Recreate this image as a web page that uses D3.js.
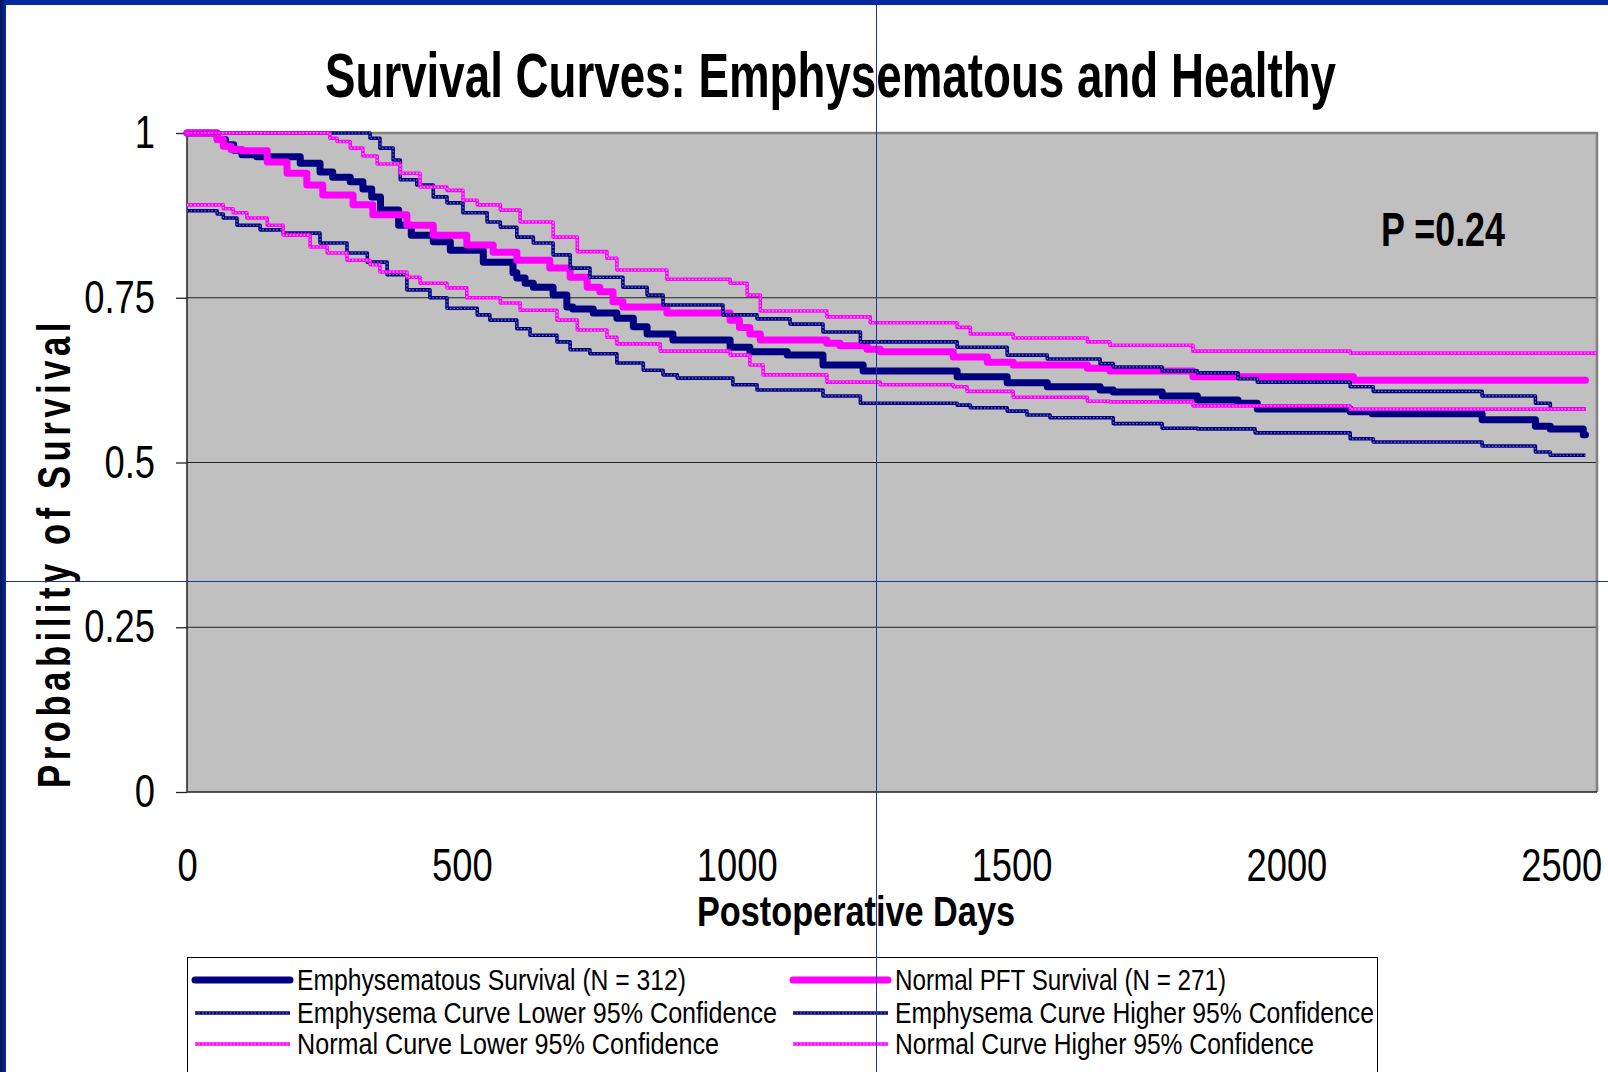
<!DOCTYPE html>
<html>
<head>
<meta charset="utf-8">
<script src="https://cdn.jsdelivr.net/npm/d3@7/dist/d3.min.js"></script>
<style>
  body { margin: 0; background: #fff; }
  svg { display: block; }
  .narrow { font-family: "Liberation Sans Narrow", "Arial Narrow", "Liberation Sans", Arial, sans-serif; }
</style>
</head>
<body>
<div id="chart"></div>
<script>
// Kaplan-Meier step points: [postoperative day, survival]
var emphSurvival = [
  [0,1.0],[55,0.990],[70,0.982],[85,0.974],[100,0.967],[127,0.964],[206,0.954],[242,0.941],
  [265,0.933],[297,0.926],[320,0.915],[336,0.903],[352,0.883],[385,0.860],[408,0.845],
  [448,0.835],[479,0.822],[539,0.804],[593,0.788],[600,0.780],[615,0.772],[630,0.766],
  [666,0.754],[691,0.736],[702,0.733],[739,0.727],[782,0.719],[812,0.706],[837,0.695],
  [884,0.686],[988,0.675],[1024,0.668],[1092,0.663],[1157,0.648],[1230,0.639],[1401,0.630],
  [1492,0.621],[1565,0.615],[1661,0.610],[1685,0.607],[1774,0.601],[1838,0.595],[1912,0.590],
  [1947,0.581],[2116,0.577],[2156,0.574],[2356,0.565],[2453,0.555],[2480,0.551],[2540,0.542]
];
var normalSurvival = [
  [0,1.0],[55,0.990],[66,0.980],[80,0.975],[100,0.973],[146,0.956],[182,0.939],[218,0.921],
  [247,0.906],[302,0.891],[338,0.876],[400,0.860],[448,0.845],[509,0.830],[557,0.819],
  [600,0.807],[660,0.795],[697,0.781],[728,0.766],[751,0.759],[775,0.744],[793,0.736],
  [873,0.727],[988,0.716],[1005,0.705],[1024,0.695],[1043,0.686],[1164,0.681],[1188,0.677],
  [1237,0.672],[1261,0.668],[1394,0.660],[1456,0.652],[1503,0.648],[1638,0.643],[1679,0.639],
  [1830,0.630],[2122,0.625]
];
var emphLower = [
  [0,0.882],[55,0.877],[66,0.871],[91,0.860],[133,0.853],[175,0.848],[242,0.833],[291,0.818],
  [328,0.804],[364,0.785],[400,0.762],[442,0.750],[473,0.734],[528,0.724],[551,0.716],
  [600,0.703],[624,0.693],[673,0.683],[697,0.671],[733,0.665],[782,0.651],[830,0.640],
  [866,0.633],[892,0.628],[993,0.618],[1037,0.610],[1157,0.601],[1225,0.590],[1401,0.587],
  [1425,0.583],[1492,0.578],[1528,0.572],[1570,0.568],[1685,0.559],[1774,0.552],[1838,0.551],
  [1943,0.545],[2116,0.536],[2158,0.531],[2356,0.525],[2453,0.516],[2480,0.511]
];
var emphHigher = [
  [0,1.0],[333,0.992],[351,0.977],[375,0.959],[388,0.929],[418,0.921],[448,0.903],[473,0.894],
  [502,0.879],[546,0.865],[570,0.857],[600,0.842],[630,0.833],[666,0.815],[697,0.795],
  [733,0.781],[793,0.766],[837,0.754],[866,0.739],[975,0.724],[1037,0.718],[1097,0.710],
  [1157,0.698],[1225,0.683],[1401,0.675],[1492,0.663],[1565,0.657],[1661,0.650],[1685,0.645],
  [1774,0.639],[1838,0.636],[1912,0.627],[1947,0.622],[2116,0.615],[2158,0.608],[2356,0.601],
  [2453,0.590],[2480,0.581]
];
var normalLower = [
  [0,0.891],[66,0.885],[84,0.879],[109,0.871],[146,0.860],[175,0.845],[224,0.827],[255,0.818],
  [291,0.807],[333,0.800],[351,0.789],[400,0.781],[424,0.772],[473,0.765],[509,0.750],
  [570,0.742],[606,0.731],[673,0.716],[710,0.701],[764,0.690],[782,0.680],[861,0.669],
  [988,0.663],[1024,0.648],[1048,0.633],[1164,0.622],[1261,0.618],[1394,0.615],[1419,0.608],
  [1503,0.599],[1638,0.593],[1679,0.592],[1830,0.586],[2116,0.581]
];
var normalHigher = [
  [0,1.0],[260,0.992],[273,0.987],[297,0.977],[320,0.965],[346,0.953],[388,0.939],[424,0.918],
  [473,0.913],[502,0.898],[528,0.891],[570,0.883],[606,0.865],[666,0.842],[710,0.820],
  [764,0.810],[782,0.792],[873,0.778],[988,0.772],[1019,0.754],[1043,0.730],[1164,0.721],
  [1243,0.712],[1401,0.705],[1425,0.695],[1503,0.689],[1638,0.683],[1679,0.678],[1830,0.669],
  [2116,0.666]
];
var lastDay = [2544, 2544, 2544, 2544, 2544, 2565];

var xTicks = [0, 500, 1000, 1500, 2000, 2500];
var yTicks = [0, 0.25, 0.5, 0.75, 1];
var legendLabels = [
  "Emphysematous Survival (N = 312)", "Normal PFT Survival (N = 271)",
  "Emphysema Curve Lower 95% Confidence", "Emphysema Curve Higher 95% Confidence",
  "Normal Curve Lower 95% Confidence", "Normal Curve Higher 95% Confidence"
];
var pValue = "P =0.24";

// layout / styles
var W = 1608, H = 1072;
var margin = {top: 133, right: 11, bottom: 280, left: 187},
    width = W - margin.left - margin.right,
    height = H - margin.top - margin.bottom;
var series = [emphSurvival, normalSurvival, emphLower, emphHigher, normalLower, normalHigher];
var colors = ["#000080", "#ff00ff", "#000080", "#000080", "#ff00ff", "#ff00ff"];
var dots = ["#000080", "#ff00ff", "#7c7cc0", "#7c7cc0", "#ffb4ff", "#ffb4ff"];
var legendWidths = [389, 331, 480, 479, 422, 419];

// squeeze a wide font into a narrow look
function squeeze(sel, k) {
  sel.each(function() {
    var w = this.getComputedTextLength();
    d3.select(this).attr("textLength", w * k).attr("lengthAdjust", "spacingAndGlyphs");
  });
}

var x = d3.scaleLinear().domain([0, 2565]).range([0, width]);
var y = d3.scaleLinear().domain([0, 1]).range([height, 0]);

var svg = d3.select("#chart").append("svg")
    .attr("width", W).attr("height", H);

// slide frame
var grad = svg.append("defs").append("linearGradient").attr("id", "edge");
grad.append("stop").attr("offset", "0%").attr("stop-color", "#001258");
grad.append("stop").attr("offset", "100%").attr("stop-color", "#0a2c9c");
svg.append("rect").attr("width", W).attr("height", 5).attr("fill", "#0628a0");
svg.append("rect").attr("width", 6).attr("height", H).attr("fill", "url(#edge)");

// title
svg.append("text").attr("class", "narrow")
    .attr("x", 325).attr("y", 97)
    .attr("textLength", 1011).attr("lengthAdjust", "spacingAndGlyphs")
    .style("font-size", "63px").style("font-weight", "bold")
    .text("Survival Curves: Emphysematous and Healthy");

var g = svg.append("g")
    .attr("transform", "translate(" + margin.left + "," + margin.top + ")");

g.append("rect").attr("width", width).attr("height", height).attr("fill", "#c0c0c0");

// gridlines
g.selectAll(".grid").data([0.25, 0.5, 0.75]).enter().append("line")
    .attr("x1", 0).attr("x2", width)
    .attr("y1", function(d) { return y(d); }).attr("y2", function(d) { return y(d); })
    .attr("stroke", "#222").attr("stroke-width", 1.2);

// frame of plot area
g.append("path").attr("d", "M0,0H" + width + "V" + height)
    .attr("fill", "none").attr("stroke", "#808080").attr("stroke-width", 2.5);
g.append("path").attr("d", "M0,0V" + height + "H" + width)
    .attr("fill", "none").attr("stroke", "#222").attr("stroke-width", 1.5);

// y axis
var yAxis = g.append("g")
    .call(d3.axisLeft(y).tickValues(yTicks).tickSize(11).tickPadding(21)
      .tickFormat(function(d) { return String(d); }));
yAxis.select(".domain").remove();
yAxis.selectAll("line").attr("stroke", "#222").attr("stroke-width", 1.3);
yAxis.selectAll("text").attr("class", "narrow")
    .style("font-size", "46px").attr("fill", "#000")
    .call(squeeze, 0.79);

// x axis
var xAxis = g.append("g").attr("transform", "translate(0," + height + ")")
    .call(d3.axisBottom(x).tickValues(xTicks).tickSize(0).tickPadding(56)
      .tickFormat(function(d) { return String(d); }));
xAxis.select(".domain").remove();
xAxis.selectAll("text").attr("class", "narrow")
    .style("font-size", "46px").attr("fill", "#000")
    .call(squeeze, 0.79);

// curves
var line = d3.line()
    .x(function(d) { return x(d[0]); })
    .y(function(d) { return y(d[1]); })
    .curve(d3.curveStepAfter);

series.forEach(function(s, i) {
  var pts = s.concat([[lastDay[i], s[s.length - 1][1]]]);
  var main = i < 2;
  g.append("path").datum(pts)
      .attr("d", line)
      .attr("fill", "none")
      .attr("stroke", colors[i])
      .attr("stroke-width", main ? 7 : 3.6)
      .attr("stroke-linejoin", "round")
      .attr("stroke-linecap", main ? "round" : "butt");
  if (!main) {
    g.append("path").datum(pts)
        .attr("d", line)
        .attr("fill", "none")
        .attr("stroke", dots[i])
        .attr("stroke-width", 1.2)
        .attr("stroke-dasharray", "1.5,2");
  }
});

// p value
svg.append("text").attr("class", "narrow")
    .attr("x", 1381).attr("y", 246)
    .attr("textLength", 124).attr("lengthAdjust", "spacingAndGlyphs")
    .style("font-size", "48px").style("font-weight", "bold")
    .text(pValue);

// axis titles
svg.append("text").attr("class", "narrow")
    .attr("x", 856).attr("y", 926).attr("text-anchor", "middle")
    .attr("textLength", 318).attr("lengthAdjust", "spacingAndGlyphs")
    .style("font-size", "43px").style("font-weight", "bold")
    .text("Postoperative Days");

// y title: narrow glyphs with wide letter spacing
var yTitle = svg.append("text").attr("class", "narrow")
    .attr("transform", "translate(70,553) rotate(-90)")
    .attr("text-anchor", "middle")
    .style("font-size", "46px").style("font-weight", "bold")
    .style("letter-spacing", "6px")
    .text("Probability of Survival");
var yLen = yTitle.node().getComputedTextLength();
yTitle.attr("transform", "translate(70,553) rotate(-90) scale(" + (470 / yLen) + ",1)");

// legend
var legend = svg.append("g");
legend.append("rect")
    .attr("x", 187.5).attr("y", 957.5).attr("width", 1190).attr("height", 140)
    .attr("fill", "#fff").attr("stroke", "#000").attr("stroke-width", 1);

var item = legend.selectAll(".item").data(legendLabels).enter().append("g")
    .attr("transform", function(d, i) {
      return "translate(" + (i % 2 ? 793 : 195) + "," + [980, 1013, 1044][Math.floor(i / 2)] + ")";
    });
item.append("line")
    .attr("x1", 0).attr("x2", 95)
    .attr("stroke", function(d, i) { return colors[i]; })
    .attr("stroke-width", function(d, i) { return i < 2 ? 7 : 3.6; })
    .attr("stroke-linecap", function(d, i) { return i < 2 ? "round" : "butt"; });
item.filter(function(d, i) { return i >= 2; }).append("line")
    .attr("x1", 0).attr("x2", 95)
    .attr("stroke", function(d, i) { return dots[i + 2]; })
    .attr("stroke-width", 1.2).attr("stroke-dasharray", "1.5,2");
item.append("text").attr("class", "narrow")
    .attr("x", 102).attr("dy", "0.36em")
    .attr("textLength", function(d, i) { return legendWidths[i]; })
    .attr("lengthAdjust", "spacingAndGlyphs")
    .style("font-size", "29px")
    .text(function(d) { return d; });

// slide guide lines
svg.append("line").attr("x1", 876.5).attr("x2", 876.5).attr("y1", 5).attr("y2", H)
    .attr("stroke", "#1838a0").attr("stroke-width", 1);
svg.append("line").attr("x1", 6).attr("x2", W).attr("y1", 581.5).attr("y2", 581.5)
    .attr("stroke", "#1838a0").attr("stroke-width", 1);
</script>
</body>
</html>
